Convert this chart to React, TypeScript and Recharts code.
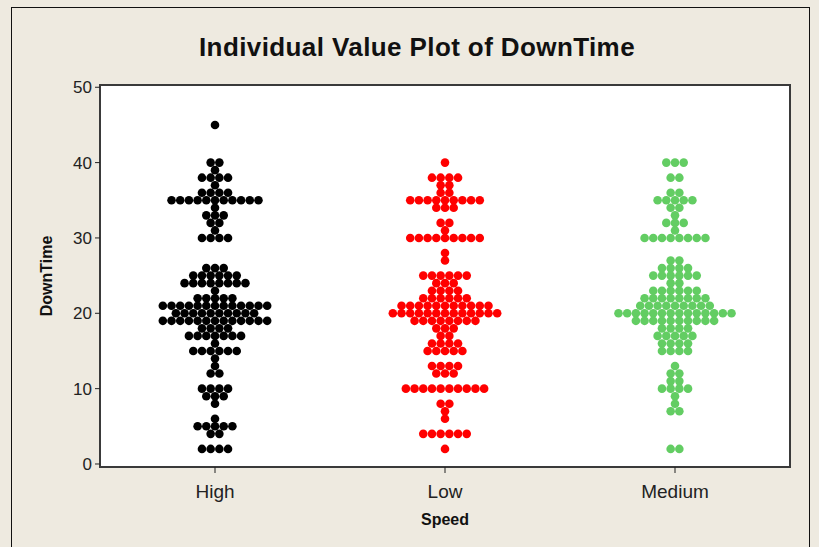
import { ScatterChart, Scatter, XAxis, YAxis, Label, ReferenceArea } from "recharts";

const SPEEDS = ["High", "Low", "Medium"];
const COLORS = ["#000000", "#ff0000", "#63cd63"];
const Y_TICKS = [0, 10, 20, 30, 40, 50];

// each value with how many observations sit on it
const HIGH_VALUES = [45, 40, 39, 38, 37, 36, 35, 34, 33, 32, 31, 30, 26, 25, 24, 23, 22, 21, 20, 19, 18, 17, 16, 15, 14, 13, 12, 10, 9, 8, 6, 5, 4, 2];
const HIGH_COUNTS = [1, 2, 1, 4, 1, 4, 11, 1, 3, 2, 1, 4, 3, 6, 8, 1, 5, 13, 10, 13, 4, 7, 1, 6, 1, 1, 2, 4, 3, 1, 1, 5, 2, 4];

const LOW_VALUES = [40, 38, 37, 36, 35, 34, 32, 31, 30, 28, 27, 25, 24, 23, 22, 21, 20, 19, 18, 17, 16, 15, 13, 12, 10, 8, 7, 6, 4, 2];
const LOW_COUNTS = [1, 4, 2, 2, 9, 3, 2, 1, 9, 1, 1, 6, 3, 4, 6, 11, 13, 8, 3, 2, 4, 5, 4, 3, 10, 2, 1, 1, 6, 1];

const MEDIUM_VALUES = [40, 38, 36, 35, 34, 33, 32, 31, 30, 27, 26, 25, 24, 23, 22, 21, 20, 19, 18, 17, 16, 15, 13, 12, 11, 10, 9, 8, 7, 2];
const MEDIUM_COUNTS = [3, 2, 2, 5, 2, 1, 3, 1, 8, 2, 4, 6, 2, 6, 8, 9, 14, 10, 4, 5, 4, 4, 1, 2, 2, 4, 1, 1, 2, 2];

const GROUPS = [
    { values: HIGH_VALUES, counts: HIGH_COUNTS },
    { values: LOW_VALUES, counts: LOW_COUNTS },
    { values: MEDIUM_VALUES, counts: MEDIUM_COUNTS },
];

const DX = 0.0378; // horizontal step between stacked dots, in category units
const FONT = '"Liberation Sans", Arial, sans-serif';

function swarm(g: number) {
    const { values, counts } = GROUPS[g];
    const pts: { x: number; y: number }[] = [];
    values.forEach((v, i) => {
        const n = counts[i];
        for (let k = 0; k < n; k++) pts.push({ x: g + 1 + (k - (n - 1) / 2) * DX, y: v });
    });
    return pts;
}

const dot = (color: string) => (p: any) => <circle cx={p.cx} cy={p.cy} r={4.3} fill={color} />;

export default function App() {
    return (
        <div style={{ position: 'absolute', left: 0, top: 0, width: 819, height: 547, background: '#eeeae0', overflow: 'hidden' }}>
            <div style={{ position: 'absolute', left: 11, top: 7, width: 797, height: 560, border: '1.5px solid #111' }} />
            <div style={{
                position: 'absolute', left: 11, width: 812, top: 32, textAlign: 'center',
                fontFamily: FONT, fontWeight: 700, fontSize: 26, color: '#111', letterSpacing: 0.4,
            }}>
                Individual Value Plot of DownTime
            </div>
            <ScatterChart width={819} height={547} margin={{ top: 85, right: 29, bottom: 20, left: 40 }}
                style={{ position: 'absolute', left: 0, top: 0 }}>
                <ReferenceArea x1={0.5} x2={3.5} y1={-0.4} y2={50.3} fill="#ffffff" fillOpacity={1}
                    stroke="#3a3a3a" strokeWidth={2} />
                <XAxis type="number" dataKey="x" domain={[0.5, 3.5]} ticks={[1, 2, 3]} allowDataOverflow
                    tickFormatter={(v: number) => SPEEDS[v - 1]} height={60}
                    axisLine={{ stroke: '#3a3a3a', strokeWidth: 2 }} tickLine={{ stroke: '#222' }} tickSize={6} tickMargin={12}
                    tick={{ fontSize: 19, fill: '#222', fontFamily: FONT }}>
                    <Label content={({ viewBox }: any) => (
                        <text x={viewBox.x + viewBox.width / 2} y={525} textAnchor="middle"
                            style={{ fontFamily: FONT, fontWeight: 700, fontSize: 16, fill: '#111' }}>Speed</text>
                    )} />
                </XAxis>
                <YAxis type="number" dataKey="y" domain={[-0.4, 50.3]} ticks={Y_TICKS} allowDataOverflow width={60}
                    axisLine={{ stroke: '#3a3a3a', strokeWidth: 2 }} tickLine={{ stroke: '#222' }} tickSize={5} tickMargin={3}
                    tick={{ fontSize: 17, fill: '#222', fontFamily: FONT }}>
                    <Label content={({ viewBox }: any) => {
                        const cx = 48, cy = viewBox.y + viewBox.height / 2;
                        return (
                            <text x={cx} y={cy} textAnchor="middle" dominantBaseline="middle" transform={`rotate(-90 ${cx} ${cy})`}
                                style={{ fontFamily: FONT, fontWeight: 700, fontSize: 16, fill: '#111' }}>DownTime</text>
                        );
                    }} />
                </YAxis>
                {SPEEDS.map((s, g) => (
                    <Scatter key={s} name={s} data={swarm(g)} shape={dot(COLORS[g])} isAnimationActive={false} />
                ))}
            </ScatterChart>
        </div>
    );
}
